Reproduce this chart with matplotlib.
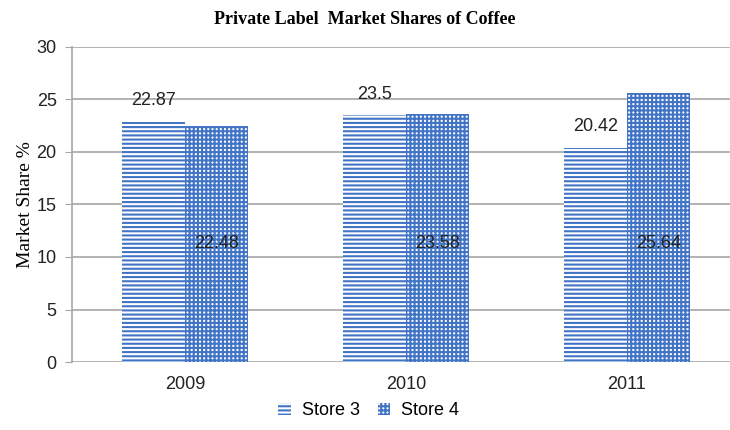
import numpy as np
import matplotlib.pyplot as plt

years = ['2009', '2010', '2011']
store3 = [22.87, 23.5, 20.42]
store4 = [22.48, 23.58, 25.64]

blue = '#4274c6'
plt.rcParams['hatch.linewidth'] = 1.5

fig = plt.figure(figsize=(7.3, 4.3), dpi=100)
ax = fig.add_axes([0.0986, 0.158, 0.9014, 0.733])

x = np.arange(len(years))
w = 0.285
b3 = ax.bar(x - w / 2, store3, w, facecolor='white', edgecolor=blue,
            hatch='----', linewidth=0, label='Store 3', zorder=3)
b4 = ax.bar(x + w / 2, store4, w, facecolor='white', edgecolor=blue,
            hatch='++++', linewidth=0, label='Store 4', zorder=3)

for xi, v in zip(x, store3):
    ax.text(xi - w / 2, v + 2.0, f'{v:g}', ha='center', va='center',
            fontsize=13, color='#222222', family='Liberation Sans', zorder=4)
for xi, v in zip(x, store4):
    ax.text(xi + w / 2, 11.3, f'{v:g}', ha='center', va='center',
            fontsize=13, color='#222222', family='Liberation Sans', zorder=4)

ax.set_xlim(-0.511, 2.466)
ax.set_ylim(0, 30)
ax.set_yticks(range(0, 31, 5))
ax.set_xticks(x)
ax.set_xticklabels(years)
ax.yaxis.grid(True, color='#a6a6a6', linewidth=1.2, zorder=0)
ax.set_axisbelow(True)
for s in ['top', 'right', 'bottom']:
    ax.spines[s].set_visible(False)
ax.spines['left'].set_color('#a6a6a6')
ax.spines['left'].set_linewidth(1.2)
ax.tick_params(axis='y', length=5, color='#a6a6a6', labelsize=13, pad=6)
ax.tick_params(axis='x', length=0, labelsize=13, pad=10)
for lab in ax.get_xticklabels() + ax.get_yticklabels():
    lab.set_family('Liberation Sans')
    lab.set_color('#222222')

ax.set_ylabel('Market Share %', family='Liberation Serif', fontsize=14, labelpad=2)
fig.text(0.5, 0.955, 'Private Label  Market Shares of Coffee', ha='center', va='center',
         family='Liberation Serif', fontweight='bold', fontsize=13)

fig.legend(handles=[b3, b4], loc='center', bbox_to_anchor=(0.505, 0.045), ncol=2,
           frameon=False, prop={'family': 'Liberation Sans', 'size': 13},
           handlelength=0.7, handleheight=0.7, handletextpad=0.6, columnspacing=1.0)

fig.savefig('out.png', dpi=100)
